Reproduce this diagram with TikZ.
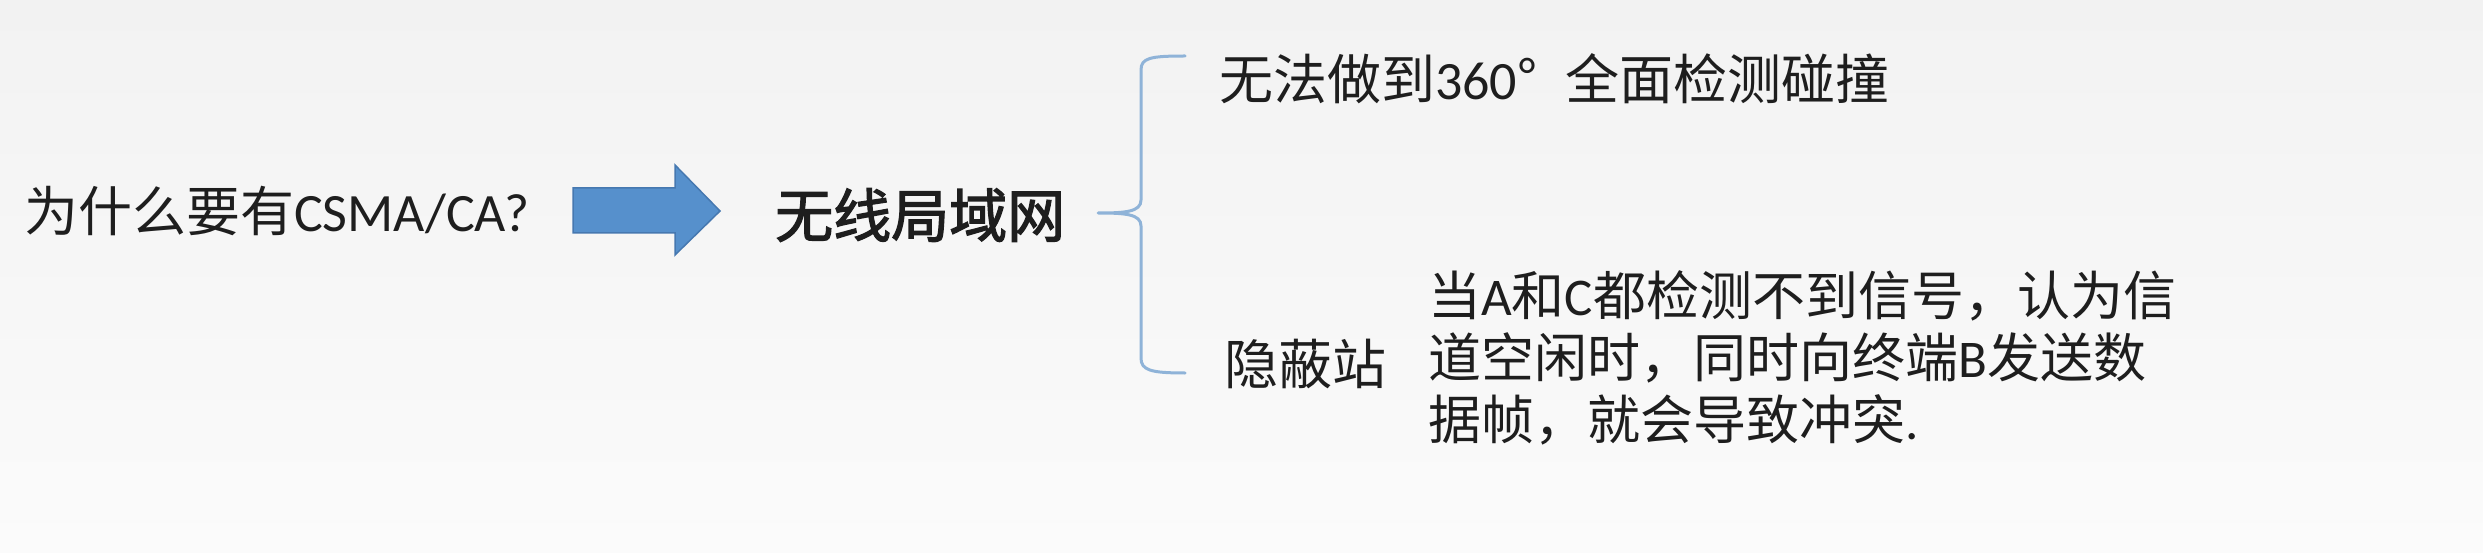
\documentclass[tikz,border=0pt]{standalone}
\usepackage{fontspec}
\setmainfont{Noto Sans CJK SC}
\newfontfamily\lat{Carlito}
\newfontfamily\cjkb[FakeBold=2.2]{Noto Sans CJK SC}
\definecolor{txt}{HTML}{1E1E1E}
\definecolor{arrowfill}{HTML}{5690CC}
\definecolor{arrowline}{HTML}{4678B0}
\definecolor{bracecol}{HTML}{8FB3D8}
\definecolor{bgtop}{HTML}{F2F2F2}
\definecolor{bgbot}{HTML}{FBFBFB}
\tikzset{
  lbl/.style={inner sep=0pt, anchor=west, text=txt, font=\fontsize{54pt}{62pt}\selectfont},
  paralbl/.style={inner sep=0pt, anchor=west, text=txt, align=left, font=\fontsize{53pt}{62pt}\selectfont},
  boldlbl/.style={inner sep=0pt, anchor=west, text=txt, font=\fontsize{58pt}{66pt}\selectfont\cjkb},
  blockarrow/.style={fill=arrowfill, draw=arrowline, line width=1.5pt, line join=miter},
  bracestyle/.style={draw=bracecol, line width=3pt, line cap=round, line join=round}
}
\begin{document}
\begin{tikzpicture}[x=1pt,y=-1pt]
\shade[top color=bgtop, bottom color=bgbot] (0,0) rectangle (2483,553);
\useasboundingbox (0,0) rectangle (2483,553);
% left question
\node[lbl] (q) at (24,211) {为什么要有{\lat CSMA/CA?}};
% block arrow
\coordinate (a1) at (573,188);
\coordinate (a2) at (675,188);
\coordinate (a3) at (675,165);
\coordinate (a4) at (720,211);
\coordinate (a5) at (675,255);
\coordinate (a6) at (675,233);
\coordinate (a7) at (573,233);
\path[blockarrow] (a1) -- (a2) -- (a3) -- (a4) -- (a5) -- (a6) -- (a7) -- cycle;
% wireless LAN
\node[boldlbl] (w) at (775,215) {无线局域网};
% brace
\coordinate (bt) at (1185,56);
\coordinate (bm) at (1098,213);
\coordinate (bb) at (1185,373);
\path[bracestyle] (bt) .. controls (1150,56) and (1141,58) .. (1141,70)
  -- (1141,200) .. controls (1141,212) and (1125,213) .. (bm)
  .. controls (1125,213) and (1141,214) .. (1141,226)
  -- (1141,358) .. controls (1141,370) and (1150,373) .. (bb);
% branches
\node[lbl] (t1) at (1219,79) {无法做到{\lat 360}°\hspace{0.52em}全面检测碰撞};
\node[lbl] (t2) at (1224,364) {隐蔽站};
\node[paralbl] (t3) at (1428,358) {当{\lat A}和{\lat C}都检测不到信号，认为信\\道空闲时，同时向终端{\lat B}发送数\\据帧，就会导致冲突{\lat .}};
\end{tikzpicture}
\end{document}
